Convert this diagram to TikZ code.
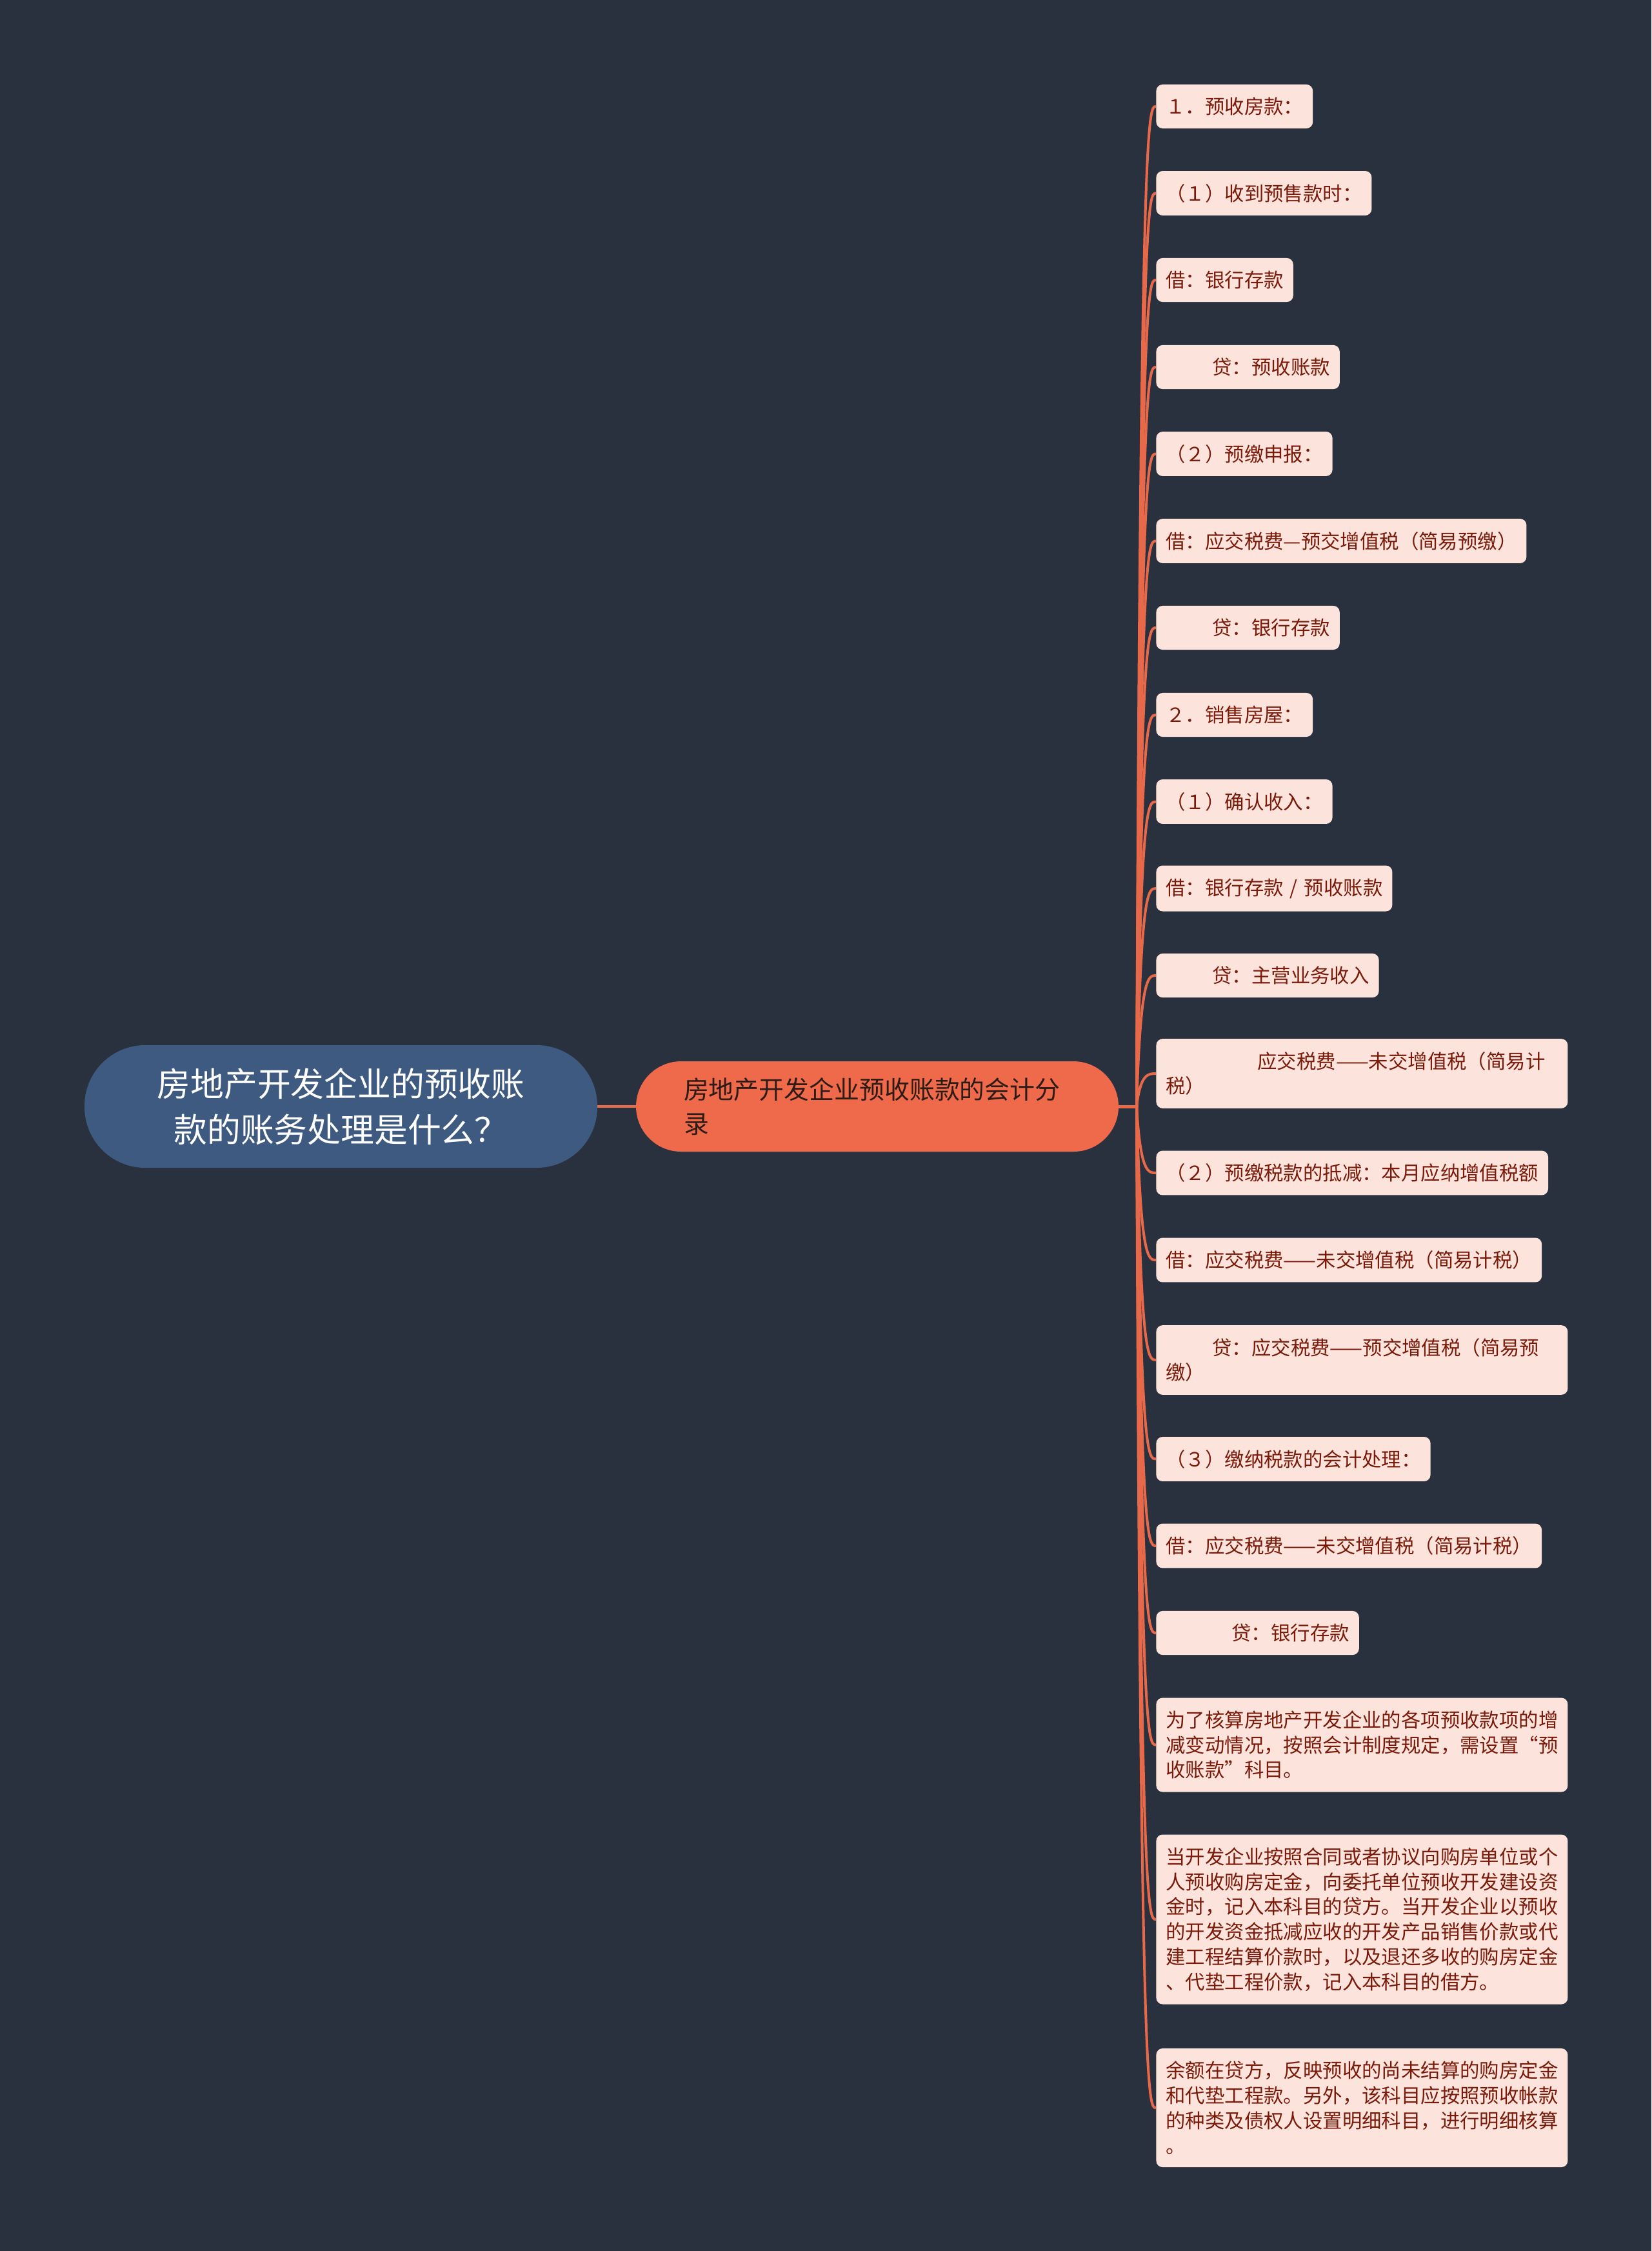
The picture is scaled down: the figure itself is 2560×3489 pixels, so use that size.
\documentclass[tikz,border=0pt]{standalone}
\usepackage{fontspec}
\setmainfont{Noto Sans CJK SC}
\usepackage{tikz}
\usetikzlibrary{calc,positioning}
\definecolor{bgnavy}{HTML}{29303E}
\definecolor{rootblue}{HTML}{3E5A80}
\definecolor{midorange}{HTML}{EE6A4A}
\definecolor{midtext}{HTML}{2D1B16}
\definecolor{leaffill}{HTML}{FCE4DC}
\definecolor{leaftext}{HTML}{7A1A0A}
\definecolor{linkred}{HTML}{E8694A}
\newcommand{\indentby}[1]{\hspace*{#1}}
\tikzset{
  rootbox/.style={fill=rootblue,text=white,font=\fontsize{25.9pt}{35.5pt}\selectfont,align=center,
    minimum width=397.5pt,minimum height=95pt,rounded corners=47pt,inner sep=0pt},
  midbox/.style={fill=midorange,text=midtext,font=\fontsize{19.45pt}{26.5pt}\selectfont,align=left,
    text width=300pt,inner xsep=37pt,minimum height=70pt,rounded corners=35pt},
  leafbox/.style={fill=leaffill,text=leaftext,font=\fontsize{15.2pt}{19.4pt}\selectfont,align=left,
    anchor=west,inner xsep=7.5pt,inner ysep=10pt,minimum height=33.5pt,rounded corners=5pt},
  parabox/.style={leafbox,text width=304pt},
  linkline/.style={draw=linkred,line width=2pt}
}
\begin{document}
\begin{tikzpicture}[x=0.5pt,y=-0.5pt]
  \useasboundingbox (0,0) rectangle (2560,3489);
  \fill[bgnavy] (0,0) rectangle (2560,3489);
  \node[rootbox] (root) at (528.5,1715) {房地产开发企业的预收账\\款的账务处理是什么？};
  \node[midbox] (mid) at (1360,1715) {房地产开发企业预收账款的会计分\\录};
  \node[leafbox] (l1) at (1792,165) {１．预收房款：};
  \node[leafbox] (l2) at (1792,299.5) {（１）收到预售款时：};
  \node[leafbox] (l3) at (1792,434) {借：银行存款};
  \node[leafbox] (l4) at (1792,569) {\indentby{36pt}贷：预收账款};
  \node[leafbox] (l5) at (1792,703.5) {（２）预缴申报：};
  \node[leafbox] (l6) at (1792,838.5) {借：应交税费—预交增值税（简易预缴）};
  \node[leafbox] (l7) at (1792,973) {\indentby{36pt}贷：银行存款};
  \node[leafbox] (l8) at (1792,1108) {２．销售房屋：};
  \node[leafbox] (l9) at (1792,1242.5) {（１）确认收入：};
  \node[leafbox] (l10) at (1792,1377) {借：银行存款\hspace{0.33em}/\hspace{0.33em}预收账款};
  \node[leafbox] (l11) at (1792,1512) {\indentby{36pt}贷：主营业务收入};
  \node[parabox] (l12) at (1792,1664) {\indentby{71pt}应交税费——未交增值税（简易计\\税）};
  \node[leafbox] (l13) at (1792,1818) {（２）预缴税款的抵减：本月应纳增值税额};
  \node[leafbox] (l14) at (1792,1953) {借：应交税费——未交增值税（简易计税）};
  \node[parabox] (l15) at (1792,2108) {\indentby{36pt}贷：应交税费——预交增值税（简易预\\缴）};
  \node[leafbox] (l16) at (1792,2261.5) {（３）缴纳税款的会计处理：};
  \node[leafbox] (l17) at (1792,2396) {借：应交税费——未交增值税（简易计税）};
  \node[leafbox] (l18) at (1792,2531) {\indentby{51pt}贷：银行存款};
  \node[parabox] (l19) at (1792,2704.5) {为了核算房地产开发企业的各项预收款项的增\\减变动情况，按照会计制度规定，需设置“预\\收账款”科目。};
  \node[parabox] (l20) at (1792,2975) {当开发企业按照合同或者协议向购房单位或个\\人预收购房定金，向委托单位预收开发建设资\\金时，记入本科目的贷方。当开发企业以预收\\的开发资金抵减应收的开发产品销售价款或代\\建工程结算价款时，以及退还多收的购房定金\\、代垫工程价款，记入本科目的借方。};
  \node[parabox] (l21) at (1792,3267) {余额在贷方，反映预收的尚未结算的购房定金\\和代垫工程款。另外，该科目应按照预收帐款\\的种类及债权人设置明细科目，进行明细核算\\。};
  \coordinate (hub) at (1762,1715);
  \draw[linkline] (root.east) -- (mid.west);
  \foreach \n in {1,...,21}
    \draw[linkline] (mid.east) -- (hub) .. controls ($(hub |- l\n.west)+(6,0)$) and ($(l\n.west)+(-12,0)$) .. (l\n.west);
\end{tikzpicture}
\end{document}
